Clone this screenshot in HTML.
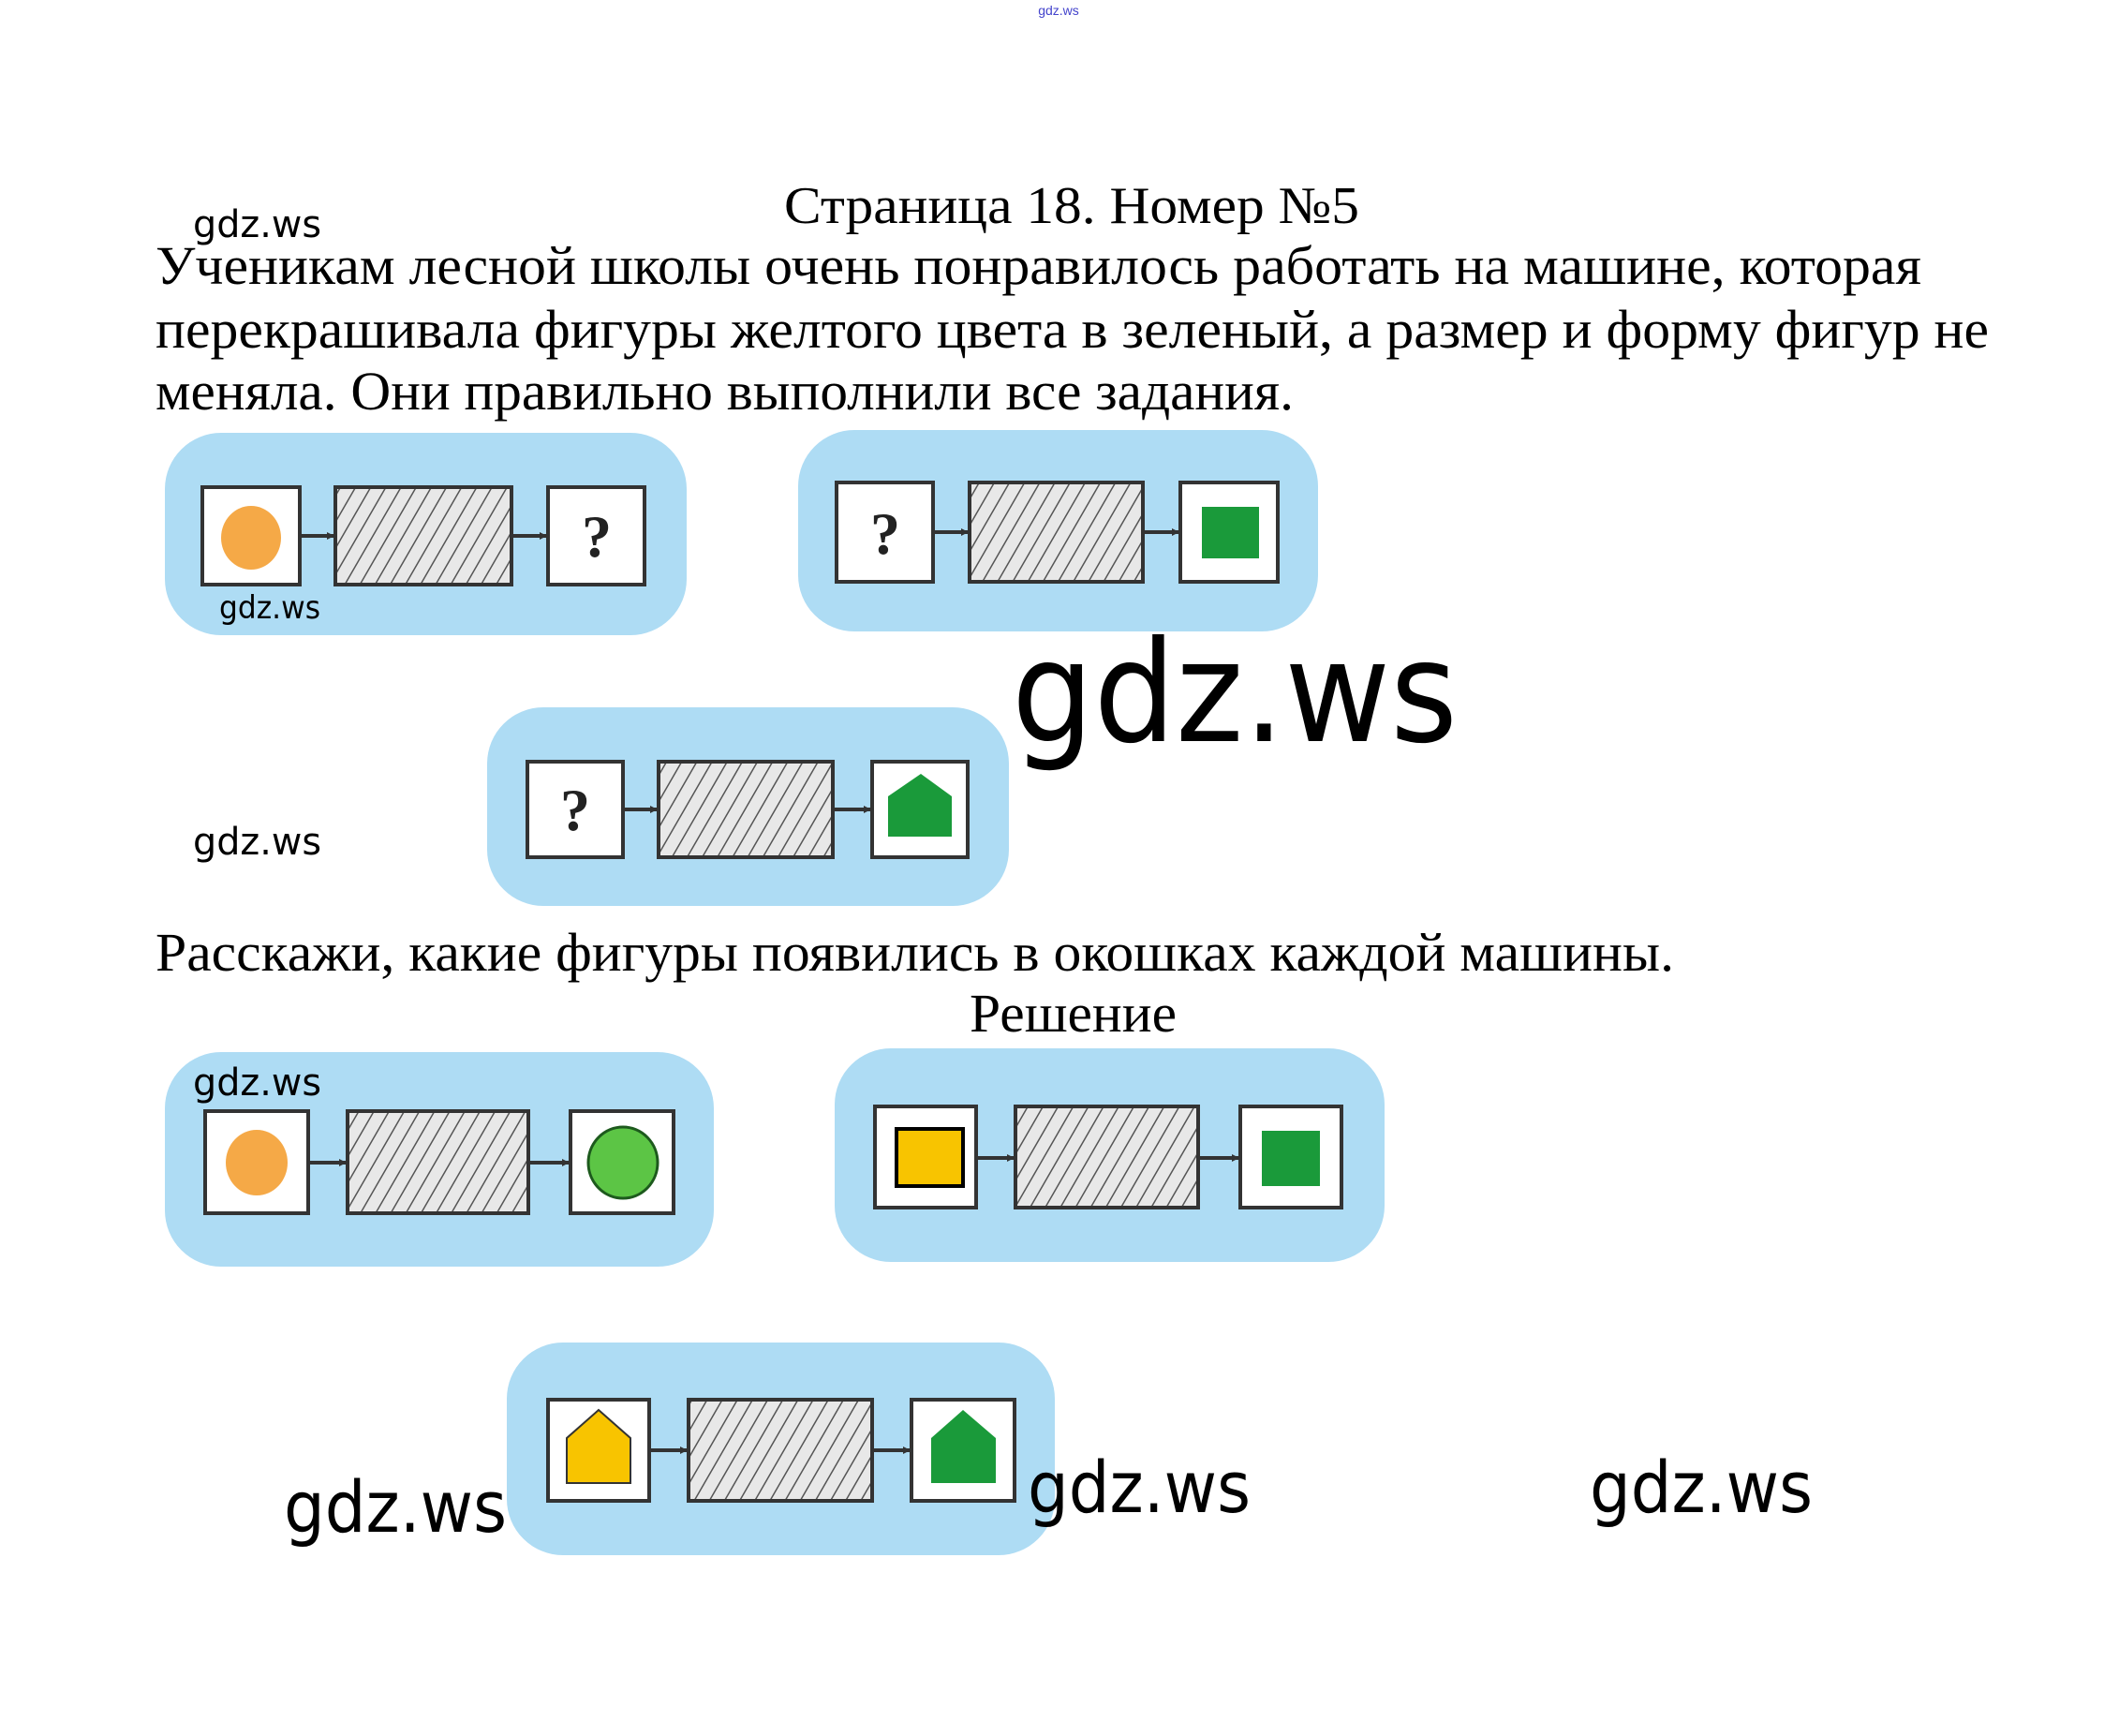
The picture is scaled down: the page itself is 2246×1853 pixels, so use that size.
<!DOCTYPE html>
<html><head><meta charset="utf-8"><style>
html,body{margin:0;padding:0;background:#fff;}
svg{display:block;}
</style></head><body>
<svg width="2246" height="1853" viewBox="0 0 2246 1853" xmlns="http://www.w3.org/2000/svg">
<defs>
<pattern id="h" patternUnits="userSpaceOnUse" width="14" height="14" patternTransform="rotate(30)">
<rect width="14" height="14" fill="#e8e8e8"/>
<line x1="0" y1="0" x2="0" y2="14" stroke="#555" stroke-width="3"/>
</pattern>
<marker id="a" markerWidth="8" markerHeight="8" refX="7" refY="4" orient="auto" markerUnits="userSpaceOnUse">
<path d="M0,0 L8,4 L0,8 z" fill="#333"/>
</marker>
</defs>
<g font-family="Liberation Serif, serif" fill="#000">
<text x="1130" y="16" font-family="Liberation Sans, sans-serif" font-size="14" fill="#4444cc" text-anchor="middle">gdz.ws</text>
<text x="837" y="238" font-size="56" textLength="614" lengthAdjust="spacingAndGlyphs">Страница 18. Номер №5</text>
<text x="166" y="303" font-size="58" textLength="1885" lengthAdjust="spacingAndGlyphs">Ученикам лесной школы очень понравилось работать на машине, которая</text>
<text x="166" y="371" font-size="58" textLength="1957" lengthAdjust="spacingAndGlyphs">перекрашивала фигуры желтого цвета в зеленый, а размер и форму фигур не</text>
<text x="166" y="437" font-size="58" textLength="1215" lengthAdjust="spacingAndGlyphs">меняла. Они правильно выполнили все задания.</text>
<text x="166" y="1036" font-size="58" textLength="1621" lengthAdjust="spacingAndGlyphs">Расскажи, какие фигуры появились в окошках каждой машины.</text>
<text x="1035" y="1101" font-size="58" textLength="221" lengthAdjust="spacingAndGlyphs">Решение</text>
</g>

<!-- panels -->
<g fill="#aedcf4">
<rect x="176" y="462" width="557" height="216" rx="60"/>
<rect x="852" y="459" width="555" height="215" rx="60"/>
<rect x="520" y="755" width="557" height="212" rx="60"/>
<rect x="176" y="1123" width="586" height="229" rx="60"/>
<rect x="891" y="1119" width="587" height="228" rx="60"/>
<rect x="541" y="1433" width="585" height="227" rx="60"/>
</g>

<g stroke="#333" stroke-width="4">
<!-- P1 -->
<rect x="216" y="520" width="104" height="104" fill="#fff"/>
<rect x="358" y="520" width="188" height="104" fill="url(#h)"/>
<rect x="585" y="520" width="103" height="104" fill="#fff"/>
<line x1="320" y1="572" x2="356" y2="572" marker-end="url(#a)"/>
<line x1="546" y1="572" x2="583" y2="572" marker-end="url(#a)"/>
<!-- P2 -->
<rect x="893" y="515" width="103" height="106" fill="#fff"/>
<rect x="1035" y="515" width="185" height="106" fill="url(#h)"/>
<rect x="1260" y="515" width="104" height="106" fill="#fff"/>
<line x1="996" y1="568" x2="1033" y2="568" marker-end="url(#a)"/>
<line x1="1220" y1="568" x2="1258" y2="568" marker-end="url(#a)"/>
<!-- P3 -->
<rect x="563" y="813" width="102" height="102" fill="#fff"/>
<rect x="703" y="813" width="186" height="102" fill="url(#h)"/>
<rect x="931" y="813" width="102" height="102" fill="#fff"/>
<line x1="665" y1="864" x2="701" y2="864" marker-end="url(#a)"/>
<line x1="889" y1="864" x2="929" y2="864" marker-end="url(#a)"/>
<!-- S1 -->
<rect x="219" y="1186" width="110" height="109" fill="#fff"/>
<rect x="371" y="1186" width="193" height="109" fill="url(#h)"/>
<rect x="609" y="1186" width="110" height="109" fill="#fff"/>
<line x1="329" y1="1241" x2="369" y2="1241" marker-end="url(#a)"/>
<line x1="564" y1="1241" x2="607" y2="1241" marker-end="url(#a)"/>
<!-- S2 -->
<rect x="934" y="1181" width="108" height="108" fill="#fff"/>
<rect x="1084" y="1181" width="195" height="108" fill="url(#h)"/>
<rect x="1324" y="1181" width="108" height="108" fill="#fff"/>
<line x1="1042" y1="1236" x2="1082" y2="1236" marker-end="url(#a)"/>
<line x1="1279" y1="1236" x2="1322" y2="1236" marker-end="url(#a)"/>
<!-- S3 -->
<rect x="585" y="1494" width="108" height="108" fill="#fff"/>
<rect x="735" y="1494" width="196" height="108" fill="url(#h)"/>
<rect x="973" y="1494" width="110" height="108" fill="#fff"/>
<line x1="693" y1="1548" x2="733" y2="1548" marker-end="url(#a)"/>
<line x1="931" y1="1548" x2="971" y2="1548" marker-end="url(#a)"/>
</g>

<!-- shapes -->
<ellipse cx="268" cy="574" rx="32" ry="34" fill="#f5a947"/>
<rect x="1283" y="541" width="61" height="55" fill="#1a9a3a"/>
<path d="M983,826 L1016,850 L1016,893 L948,893 L948,850 z" fill="#1a9a3a"/>
<ellipse cx="274" cy="1241" rx="33" ry="35" fill="#f5a947"/>
<ellipse cx="665" cy="1241" rx="37" ry="38" fill="#5cc545" stroke="#1d5a1d" stroke-width="3"/>
<rect x="957" y="1205" width="71" height="61" fill="#f8c400" stroke="#000" stroke-width="4"/>
<rect x="1347" y="1207" width="62" height="59" fill="#1a9a3a"/>
<path d="M639,1505 L673,1535 L673,1583 L605,1583 L605,1535 z" fill="#f8c400" stroke="#333" stroke-width="2"/>
<path d="M1028,1505 L1063,1535 L1063,1583 L994,1583 L994,1535 z" fill="#1a9a3a"/>

<g font-family="Liberation Serif, serif" font-weight="bold" font-size="64" fill="#222" text-anchor="middle">
<text x="637" y="594">?</text>
<text x="945" y="591">?</text>
<text x="614" y="886">?</text>
</g>

<g font-family="DejaVu Sans, Liberation Sans, sans-serif" fill="#000">
<text x="206" y="253" font-size="40" textLength="137" lengthAdjust="spacingAndGlyphs">gdz.ws</text>
<text x="234" y="660" font-size="34" textLength="108" lengthAdjust="spacingAndGlyphs">gdz.ws</text>
<text x="206" y="912" font-size="40" textLength="137" lengthAdjust="spacingAndGlyphs">gdz.ws</text>
<text x="206" y="1169" font-size="40" textLength="137" lengthAdjust="spacingAndGlyphs">gdz.ws</text>
<text x="1080" y="791" font-size="150" textLength="476" lengthAdjust="spacingAndGlyphs">gdz.ws</text>
<text x="303" y="1635" font-size="76" textLength="238" lengthAdjust="spacingAndGlyphs">gdz.ws</text>
<text x="1097" y="1614" font-size="76" textLength="238" lengthAdjust="spacingAndGlyphs">gdz.ws</text>
<text x="1697" y="1614" font-size="76" textLength="238" lengthAdjust="spacingAndGlyphs">gdz.ws</text>
</g>
</svg>
</body></html>
